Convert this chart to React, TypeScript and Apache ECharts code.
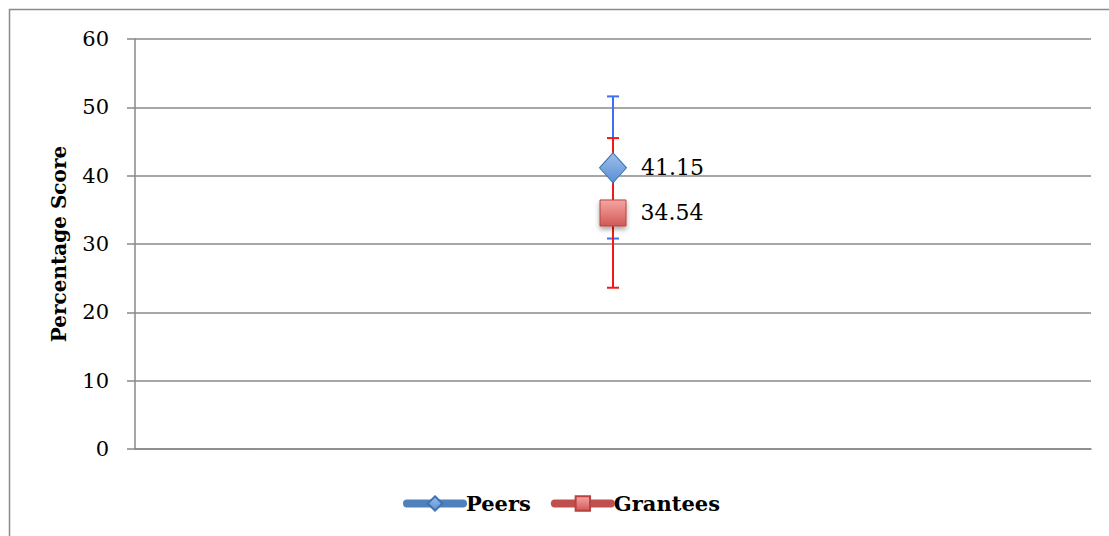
import React, { useEffect, useRef } from "react";
import * as echarts from "echarts";

const categories = ["Score"];
const peersValue = [41.15];
const granteesValue = [34.54];
const peersErr = [[30.8, 51.6]];
const granteesErr = [[23.6, 45.5]];
const yTicks = { min: 0, max: 60, interval: 10 };

const FONT = "DejaVu Serif";

export default function App() {
  const ref = useRef<HTMLDivElement>(null);
  useEffect(() => {
    document.body.style.margin = "0";
    const chart = echarts.init(ref.current!, null, { renderer: "svg" });
    const errItem = (color: string) => (params: any, api: any) => {
      const x = api.value(0);
      const lo = api.coord([x, api.value(1)]);
      const hi = api.coord([x, api.value(2)]);
      const cap = 6;
      const style = { stroke: color, lineWidth: 2 };
      return {
        type: "group",
        children: [
          { type: "line", shape: { x1: lo[0], y1: lo[1], x2: hi[0], y2: hi[1] }, style },
          { type: "line", shape: { x1: lo[0] - cap, y1: lo[1], x2: lo[0] + cap, y2: lo[1] }, style },
          { type: "line", shape: { x1: hi[0] - cap, y1: hi[1], x2: hi[0] + cap, y2: hi[1] }, style },
        ],
      };
    };
    chart.setOption({
      animation: false,
      graphic: [
        {
          type: "rect",
          shape: { x: 9.5, y: 9.5, width: 1200, height: 700 },
          style: { fill: "none", stroke: "#8a8a8a", lineWidth: 1.5 },
          silent: true,
        },
      ],
      grid: { left: 135, right: 18, top: 39, bottom: 87 },
      legend: {
        left: 398,
        top: 488,
        itemWidth: 56,
        itemHeight: 18,
        itemGap: 20,
        data: ["Peers", "Grantees"],
        lineStyle: { width: 8, cap: "round" },
        textStyle: { fontFamily: FONT, fontWeight: "bold", fontSize: 21, color: "#000", padding: [0, 0, 0, -2] },
      },
      xAxis: {
        type: "category",
        data: categories,
        axisLine: { show: true, lineStyle: { color: "#888", width: 1.5 } },
        axisTick: { show: false },
        axisLabel: { show: false },
      },
      yAxis: {
        type: "value",
        min: yTicks.min,
        max: yTicks.max,
        interval: yTicks.interval,
        name: "Percentage Score",
        nameLocation: "middle",
        nameGap: 66,
        nameTextStyle: { fontFamily: FONT, fontWeight: "bold", fontSize: 20, color: "#000" },
        axisLine: { show: true, lineStyle: { color: "#888", width: 1.5 } },
        axisTick: { show: true, length: 8, lineStyle: { color: "#888", width: 1.5 } },
        axisLabel: { fontFamily: FONT, fontSize: 21, color: "#000", margin: 26 },
        splitLine: { show: true, lineStyle: { color: "#888", width: 1.5 } },
      },
      series: [
        {
          type: "custom",
          name: "PeersErr",
          renderItem: errItem("#3f6ff2"),
          data: peersErr.map((d, i) => [i, d[0], d[1]]),
          encode: { x: 0, y: [1, 2] },
          z: 2,
          silent: true,
        },
        {
          type: "custom",
          name: "GranteesErr",
          renderItem: errItem("#f21818"),
          data: granteesErr.map((d, i) => [i, d[0], d[1]]),
          encode: { x: 0, y: [1, 2] },
          z: 3,
          silent: true,
        },
        {
          type: "line",
          name: "Peers",
          data: peersValue,
          symbol: "diamond",
          symbolSize: [27, 30],
          z: 5,
          lineStyle: { color: "#4F81BD", width: 8, cap: "round" },
          itemStyle: {
            color: new echarts.graphic.LinearGradient(0, 0, 0, 1, [
              { offset: 0, color: "#9dbfea" },
              { offset: 1, color: "#5b8fd4" },
            ]),
            borderColor: "#3f72b0",
            borderWidth: 1,
          },
          label: {
            show: true,
            position: "right",
            distance: 14,
            fontFamily: FONT,
            fontSize: 22,
            color: "#000",
            formatter: (p: any) => p.value.toFixed(2),
          },
        },
        {
          type: "line",
          name: "Grantees",
          data: granteesValue,
          symbol: "rect",
          symbolSize: [26, 26],
          z: 6,
          lineStyle: { color: "#C0504D", width: 8, cap: "round" },
          itemStyle: {
            color: new echarts.graphic.LinearGradient(0, 0, 0, 1, [
              { offset: 0, color: "#f5a5a3" },
              { offset: 1, color: "#d05a57" },
            ]),
            borderColor: "#b8423f",
            borderWidth: 1,
            shadowColor: "rgba(0,0,0,0.35)",
            shadowBlur: 5,
            shadowOffsetY: 3,
          },
          label: {
            show: true,
            position: "right",
            distance: 14,
            fontFamily: FONT,
            fontSize: 22,
            color: "#000",
            formatter: (p: any) => p.value.toFixed(2),
          },
        },
      ],
    });
    return () => chart.dispose();
  }, []);
  return (
    <div
      ref={ref}
      style={{ position: "absolute", left: 0, top: 0, width: 1109, height: 536, background: "#fff" }}
    />
  );
}
